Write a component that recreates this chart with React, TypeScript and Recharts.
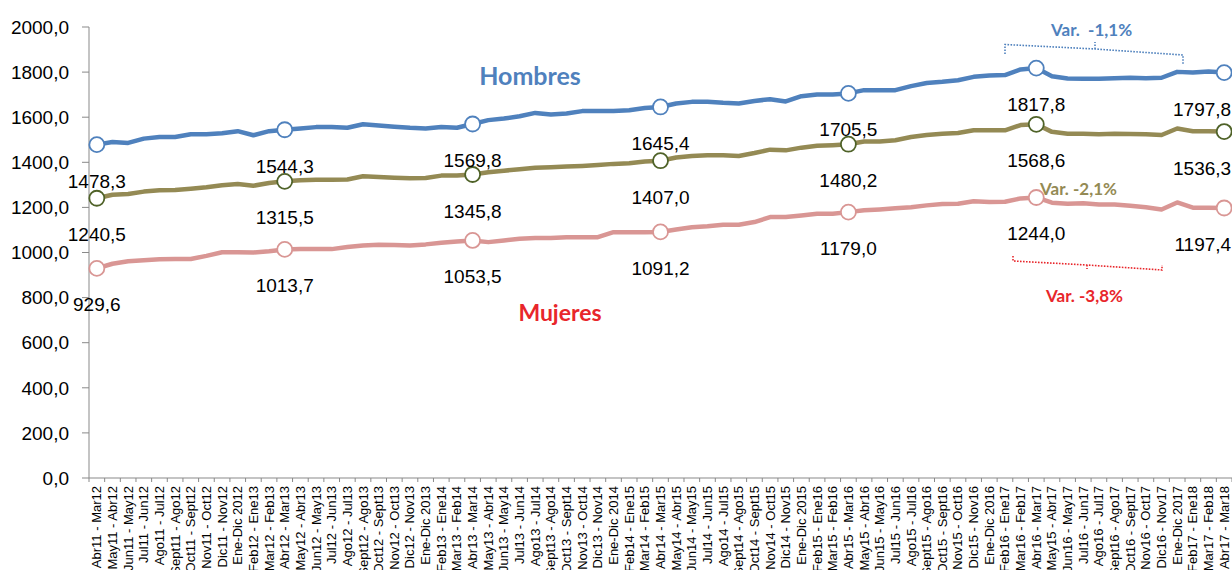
import React from 'react';
import { LineChart, Line, XAxis, YAxis, LabelList } from 'recharts';

// rolling 12-month periods, Abr11-Mar12 ... Abr17-Mar18
const periods = [
  'Abr11 - Mar12', 'May11 - Abr12', 'Jun11 - May12', 'Jul11 - Jun12', 'Ago11 - Jul12', 'Sept11 - Ago12',
  'Oct11 - Sept12', 'Nov11 - Oct12', 'Dic11 - Nov12', 'Ene-Dic 2012', 'Feb12 - Ene13', 'Mar12 - Feb13',
  'Abr12 - Mar13', 'May12 - Abr13', 'Jun12 - May13', 'Jul12 - Jun13', 'Ago12 - Jul13', 'Sept12 - Ago13',
  'Oct12 - Sept13', 'Nov12 - Oct13', 'Dic12 - Nov13', 'Ene-Dic 2013', 'Feb13 - Ene14', 'Mar13 - Feb14',
  'Abr13 - Mar14', 'May13 - Abr14', 'Jun13 - May14', 'Jul13 - Jun14', 'Ago13 - Jul14', 'Sept13 - Ago14',
  'Oct13 - Sept14', 'Nov13 - Oct14', 'Dic13 - Nov14', 'Ene-Dic 2014', 'Feb14 - Ene15', 'Mar14 - Feb15',
  'Abr14 - Mar15', 'May14 - Abr15', 'Jun14 - May15', 'Jul14 - Jun15', 'Ago14 - Jul15', 'Sept14 - Ago15',
  'Oct14 - Sept15', 'Nov14 - Oct15', 'Dic14 - Nov15', 'Ene-Dic 2015', 'Feb15 - Ene16', 'Mar15 - Feb16',
  'Abr15 - Mar16', 'May15 - Abr16', 'Jun15 - May16', 'Jul15 - Jun16', 'Ago15 - Jul16', 'Sept15 - Ago16',
  'Oct15 - Sept16', 'Nov15 - Oct16', 'Dic15 - Nov16', 'Ene-Dic 2016', 'Feb16 - Ene17', 'Mar16 - Feb17',
  'Abr16 - Mar17', 'May15 - Abr17', 'Jun16 - May17', 'Jul16 - Jun17', 'Ago16 - Jul17', 'Sept16 - Ago17',
  'Oct16 - Sept17', 'Nov16 - Oct17', 'Dic16 - Nov17', 'Ene-Dic 2017', 'Feb17 - Ene18', 'Mar17 - Feb18',
  'Abr17 - Mar18',
];

const hombres = [
  1478.3, 1490, 1486, 1505, 1512, 1512, 1524, 1524, 1529, 1538, 1520, 1538,
  1544.3, 1550, 1556, 1556, 1553, 1569, 1563, 1558, 1553, 1550, 1557, 1553,
  1569.8, 1587, 1594, 1604, 1619, 1612, 1616, 1627, 1627, 1628, 1631, 1641,
  1645.4, 1661, 1668, 1669, 1664, 1661, 1672, 1680, 1670, 1693, 1701, 1701,
  1705.5, 1720, 1720, 1720, 1738, 1752, 1757, 1764, 1779, 1785, 1787, 1812,
  1817.8, 1782, 1772, 1770, 1770, 1773, 1775, 1773, 1775, 1801, 1798, 1803,
  1797.8,
];

const total = [
  1240.5, 1256, 1259, 1270, 1276, 1277, 1283, 1289, 1298, 1304, 1296, 1308,
  1315.5, 1320, 1323, 1323, 1324, 1338, 1335, 1332, 1329, 1330, 1341, 1341,
  1345.8, 1356, 1363, 1369, 1376, 1378, 1381, 1384, 1388, 1393, 1396, 1404,
  1407.0, 1421, 1428, 1431, 1431, 1428, 1441, 1456, 1453, 1465, 1473, 1476,
  1480.2, 1492, 1492, 1498, 1512, 1521, 1527, 1530, 1542, 1542, 1542, 1565,
  1568.6, 1535, 1527, 1527, 1524, 1527, 1526, 1524, 1521, 1550, 1538, 1538,
  1536.3,
];

const mujeres = [
  929.6, 950, 961, 966, 970, 971, 971, 985, 1001, 1001, 1000, 1006,
  1013.7, 1016, 1015, 1015, 1024, 1031, 1034, 1033, 1031, 1036, 1043, 1049,
  1053.5, 1046, 1053, 1061, 1064, 1064, 1068, 1068, 1068, 1090, 1090, 1090,
  1091.2, 1102, 1112, 1116, 1123, 1123, 1135, 1157, 1157, 1164, 1172, 1172,
  1179.0, 1187, 1191, 1196, 1201, 1209, 1215, 1216, 1227, 1224, 1225, 1240,
  1244.0, 1221, 1216, 1218, 1213, 1213, 1207, 1201, 1191, 1222, 1199, 1199,
  1197.4,
];

const yTicks = [0, 200, 400, 600, 800, 1000, 1200, 1400, 1600, 1800, 2000];

const CHART_W = 1232;
const CHART_H = 570;
const TOP = 27;
const Y_AXIS_W = 89;
const X_AXIS_H = 92;
const BAND = (CHART_W - Y_AXIS_W) / periods.length;
const AXIS_Y = CHART_H - X_AXIS_H;
const MARK_EVERY = 12;

const AXIS_GREY = '#898989';
const BLUE = '#4F81BD';
const OLIVE = '#948A54';
const OLIVE_DARK = '#4F6228';
const PINK = '#D99694';
const RED = '#E8262B';
const TICK_FONT = '"Liberation Sans", Arial, sans-serif';
const NOTE_FONT = 'Lato, "Open Sans", sans-serif';

const fmt = (v: number) => v.toFixed(1).replace('.', ',');

const data = periods.map((p, i) => ({
  period: p,
  hombres: hombres[i],
  total: total[i],
  mujeres: mujeres[i],
}));

// category labels hang under the axis, tick marks sit on the band edges
const XTick = (props: any) => {
  const { x, payload, index } = props;
  const last = index === periods.length - 1;
  return (
    <g>
      <line x1={x - BAND / 2} x2={x - BAND / 2} y1={AXIS_Y} y2={AXIS_Y + 4} stroke={AXIS_GREY} />
      {last && <line x1={x + BAND / 2} x2={x + BAND / 2} y1={AXIS_Y} y2={AXIS_Y + 4} stroke={AXIS_GREY} />}
      <text
        x={0}
        y={0}
        transform={`translate(${x + 4.5},${AXIS_Y + 8}) rotate(-90)`}
        textAnchor="end"
        fontSize={13}
        fontFamily={TICK_FONT}
        fill="#000"
      >
        {payload.value}
      </text>
    </g>
  );
};

const idxOf = (props: any) =>
  typeof props.index === 'number' ? props.index : Math.round((props.x - Y_AXIS_W - BAND / 2) / BAND);

const makeDot = (stroke: string) => (props: any) => {
  const { cx, cy, index } = props;
  if (index % MARK_EVERY !== 0) return <g key={`d-${index}`} />;
  return <circle key={`d-${index}`} cx={cx} cy={cy} r={7.5} fill="#fff" stroke={stroke} strokeWidth={1.8} />;
};

const renderValue = (props: any) => {
  const { x, y, value } = props;
  const index = idxOf(props);
  if (index % MARK_EVERY !== 0) return null;
  const last = index === periods.length - 1;
  return (
    <text
      key={`l-${index}`}
      x={last ? x + 7 : x}
      y={y + 43}
      textAnchor={last ? 'end' : 'middle'}
      fontSize={19}
      fontFamily={TICK_FONT}
      fill="#000"
    >
      {fmt(Number(value))}
    </text>
  );
};

const dotted = { fill: 'none', strokeWidth: 1.6, strokeDasharray: '1.6 1.4' };

const App = () => {
  return (
    <div style={{ position: 'absolute', left: 0, top: 0, width: CHART_W, height: CHART_H, background: '#fff' }}>
      <LineChart width={CHART_W} height={CHART_H} data={data} margin={{ top: TOP, right: 0, bottom: 0, left: 0 }}>
        <XAxis
          dataKey="period"
          interval={0}
          height={X_AXIS_H}
          padding={{ left: BAND / 2, right: BAND / 2 }}
          stroke={AXIS_GREY}
          tickLine={false}
          tick={<XTick />}
        />
        <YAxis
          width={Y_AXIS_W}
          domain={[0, 2000]}
          ticks={yTicks}
          interval={0}
          stroke={AXIS_GREY}
          tickSize={7}
          tickMargin={13}
          tickFormatter={fmt}
          tick={{ fontSize: 19, fontFamily: TICK_FONT, fill: '#000' }}
        />
        <Line
          dataKey="hombres"
          stroke={BLUE}
          strokeWidth={4.5}
          strokeLinejoin="round"
          dot={makeDot(BLUE)}
          activeDot={false}
          isAnimationActive={false}
        >
          <LabelList dataKey="hombres" content={renderValue} />
        </Line>
        <Line
          dataKey="total"
          stroke={OLIVE}
          strokeWidth={4.5}
          strokeLinejoin="round"
          dot={makeDot(OLIVE_DARK)}
          activeDot={false}
          isAnimationActive={false}
        >
          <LabelList dataKey="total" content={renderValue} />
        </Line>
        <Line
          dataKey="mujeres"
          stroke={PINK}
          strokeWidth={4.5}
          strokeLinejoin="round"
          dot={makeDot(PINK)}
          activeDot={false}
          isAnimationActive={false}
        >
          <LabelList dataKey="mujeres" content={renderValue} />
        </Line>
      </LineChart>

      {/* annotations drawn on top of the chart */}
      <svg
        width={CHART_W}
        height={CHART_H}
        style={{ position: 'absolute', left: 0, top: 0, pointerEvents: 'none' }}
      >
        <text x={530} y={85} textAnchor="middle" fontFamily={NOTE_FONT} fontWeight="bold" fontSize={25} fill={BLUE}>
          Hombres
        </text>
        <text x={560} y={321} textAnchor="middle" fontFamily={NOTE_FONT} fontWeight="bold" fontSize={23} fill={RED}>
          Mujeres
        </text>

        <text x={1051} y={36} fontFamily={NOTE_FONT} fontWeight="bold" fontSize={17} fill={BLUE} xmlSpace="preserve">
          Var.  -1,1%
        </text>
        <path d="M1005,54 L1005,44.5 L1095,49 L1183,55 L1183,64 M1095,49 L1095,42" stroke={BLUE} {...dotted} />

        <text x={1040} y={195} fontFamily={NOTE_FONT} fontWeight="bold" fontSize={17} fill={OLIVE}>
          Var. -2,1%
        </text>

        <path d="M1013,256 L1013,261 L1087,265 L1162,270 L1162,265 M1087,265 L1087,269" stroke={RED} {...dotted} />
        <text x={1046} y={302} fontFamily={NOTE_FONT} fontWeight="bold" fontSize={17} fill={RED}>
          Var. -3,8%
        </text>
      </svg>
    </div>
  );
};

export default App;
